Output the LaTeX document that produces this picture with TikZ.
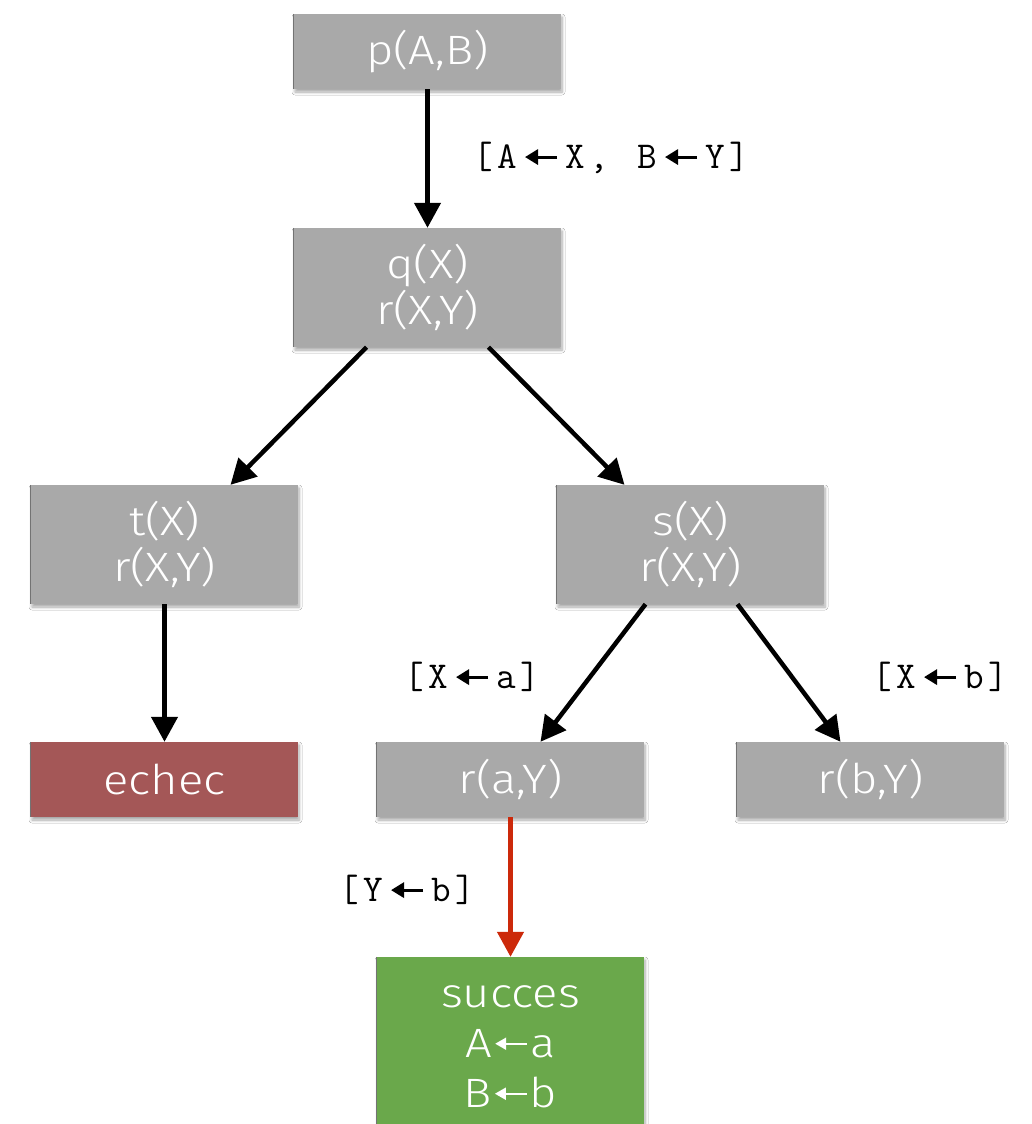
\documentclass[tikz,border=0pt]{standalone}
\usepackage{fontspec}
\setmainfont{Liberation Sans}
\newfontfamily\boxfont{Fira Sans Light}[FakeStretch=1.15]
\usetikzlibrary{arrows.meta,shadows.blur}

\definecolor{boxgray}{RGB}{169,169,169}
\definecolor{failred}{RGB}{164,87,87}
\definecolor{okgreen}{RGB}{106,168,75}
\definecolor{arrowred}{RGB}{204,41,10}

% monospaced cells for the substitution labels
\newcommand\cell[1]{\makebox[24pt][c]{#1}}
\newcommand\larr{\makebox[44pt][c]{\tikz[baseline=-11.5pt]
  \draw[line width=3pt, -{Triangle[width=15pt,length=13pt]}] (16pt,0pt) -- (-16pt,0pt);}}
% binding arrow inside the result box
\newcommand\barr{\hspace{2pt}\tikz[baseline=-14pt]
  \draw[white, line width=2pt, -{Triangle[width=12pt,length=11pt]}] (32pt,0pt) -- (0pt,0pt);\hspace{2pt}}

\begin{document}
\begin{tikzpicture}[x=1pt,y=-1pt,
  goal/.style={fill=boxgray, minimum width=267pt, inner sep=0pt, text=white,
    font=\boxfont\fontsize{41}{46}\selectfont, align=center,
    blur shadow={shadow xshift=1pt, shadow yshift=-3pt, shadow opacity=35,
      shadow blur steps=6, shadow blur radius=3pt}},
  edge/.style={line width=4.5pt, -{Triangle[width=26pt,length=25pt]}},
  subst/.style={font=\ttfamily\fontsize{38}{40}\selectfont\addfontfeature{FakeBold=1.2}, inner sep=0pt},
  rim/.style={draw=black!55, line width=1pt}]

\fill[white] (0,0) rectangle (1032,1124);
\useasboundingbox (0,0) rectangle (1032,1124);

% goals of the resolution tree
\node[goal, minimum height=75pt]  (p)    at (427.5,51.5)  {p(A,B)};
\node[goal, minimum height=119pt] (q)    at (427.5,287.5) {q(X)\\r(X,Y)};
\node[goal, minimum height=119pt] (t)    at (164.5,544.5) {t(X)\\r(X,Y)};
\node[goal, minimum height=119pt] (s)    at (690.5,544.5) {s(X)\\r(X,Y)};
\node[goal, fill=failred, minimum height=75pt] (fail) at (164.5,779.5) {echec};
\node[goal, minimum height=75pt]  (ra)   at (510.5,779.5) {r(a,Y)};
\node[goal, minimum height=75pt]  (rb)   at (870.5,779.5) {r(b,Y)};
\node[goal, fill=okgreen, minimum height=180pt, font=\boxfont\fontsize{41}{50}\selectfont]
  (ok) at (510.5,1047) {succes\\A\barr a\\B\barr b};

% thin darker left rims
\foreach \n in {p,q,t,s,fail,ra,rb,ok}
  \draw[rim] (\n.north west) -- (\n.south west);

% resolution steps
\draw[edge] (p.south) -- (q.north);
\draw[edge] ([xshift=-61pt]q.south) -- ([xshift=66pt]t.north);
\draw[edge] ([xshift=61pt]q.south) -- ([xshift=-66pt]s.north);
\draw[edge] (t.south) -- (fail.north);
\draw[edge] ([xshift=-45pt]s.south) -- ([xshift=30pt]ra.north);
\draw[edge] ([xshift=47pt]s.south) -- ([xshift=-30pt]rb.north);
\draw[edge, draw=arrowred, fill=arrowred] (ra.south) -- (ok.north);

% substitutions
\node[subst] (l1) at (611,158) {\cell{[}\cell{A}\larr\cell{X}\cell{,}\cell{ }\cell{B}\larr\cell{Y}\cell{]}};
\node[subst] (l2) at (472,677) {\cell{[}\cell{X}\larr\cell{a}\cell{]}};
\node[subst] (l3) at (940,677) {\cell{[}\cell{X}\larr\cell{b}\cell{]}};
\node[subst] (l4) at (407,890) {\cell{[}\cell{Y}\larr\cell{b}\cell{]}};
\end{tikzpicture}
\end{document}
